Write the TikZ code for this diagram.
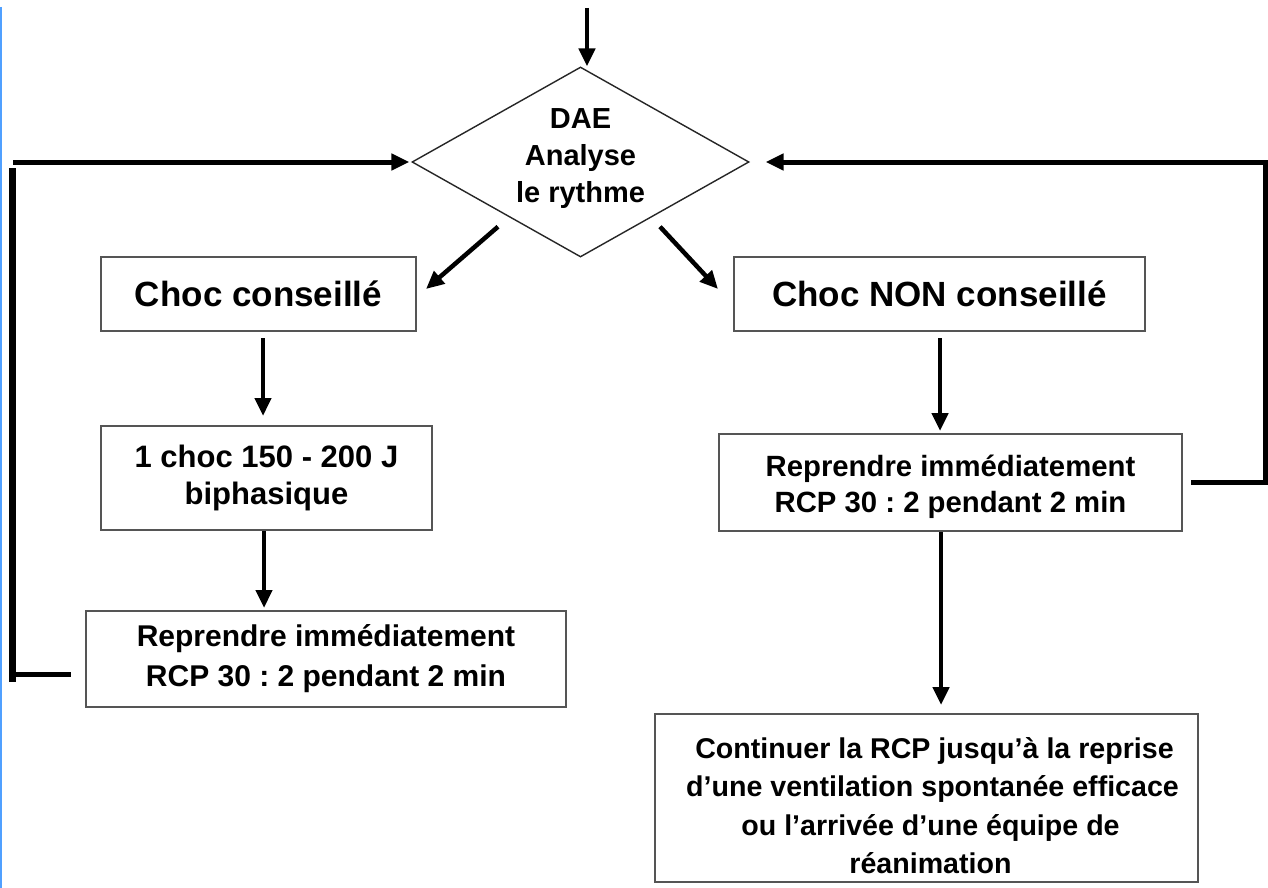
\documentclass[tikz,border=0pt]{standalone}
\usepackage{fontspec}
\setmainfont{Liberation Sans}
\frenchspacing
\usetikzlibrary{shapes.geometric,arrows.meta,calc}
\definecolor{edgeblue}{RGB}{80,160,255}
\definecolor{boxline}{RGB}{85,85,85}
\begin{document}
\begin{tikzpicture}[x=1pt,y=-1pt,
  box/.style={draw=boxline,line width=2pt,rectangle,inner sep=0pt,align=center,
    font=\fontsize{29}{38}\selectfont\bfseries},
  bigbox/.style={box,font=\fontsize{35}{40}\selectfont\bfseries},
  decision/.style={draw=black!85,line width=1.4pt,diamond,aspect=1.77,inner sep=0pt,align=center,
    font=\fontsize{29}{37}\selectfont\bfseries},
  conn/.style={line width=4.5pt,line join=miter,-{Triangle[length=18pt,width=16pt]}},
  loopline/.style={line width=5pt}
]
\fill[white] (0,0) rectangle (1268,888);
\useasboundingbox (0,0) rectangle (1268,888);
\draw[edgeblue,line width=2.5pt] (1.2,7) -- (1.2,888);

% nodes
\node[decision,minimum width=337pt,minimum height=190pt] (dae) at (580.5,162) {DAE\\Analyse\\le rythme\rule[-12pt]{0pt}{1pt}};
\node[bigbox,minimum width=315pt,minimum height=74pt] (choc) at (258.5,294) {Choc conseillé};
\node[bigbox,minimum width=411pt,minimum height=74pt] (non) at (939.5,294) {Choc NON conseillé};
\node[box,minimum width=331pt,minimum height=104pt,font=\fontsize{31}{37}\selectfont\bfseries] (onechoc) at (266.5,478) {1 choc 150 - 200 J\\biphasique};
\node[box,minimum width=480pt,minimum height=96pt,font=\fontsize{30}{40}\selectfont\bfseries] (lrep) at (326,659) {Reprendre immédiatement\\RCP 30 : 2 pendant 2 min};
\node[box,minimum width=463pt,minimum height=97pt,font=\fontsize{29.3}{36}\selectfont\bfseries] (rrep) at (950.5,482.5) {\rule{0pt}{30pt}Reprendre immédiatement\\RCP 30 : 2 pendant 2 min};
\node[box,minimum width=543pt,minimum height=168pt,font=\fontsize{28.6}{38.5}\selectfont\bfseries] (cont) at (926.5,798) {\rule{0pt}{36pt}\hspace{16pt}Continuer la RCP jusqu’à la reprise\\\hspace{12pt}d’une ventilation spontanée efficace\\\hspace{8pt}ou l’arrivée d’une équipe de\\\hspace{8pt}réanimation};

% entry arrow
\coordinate (tin) at (587,8);
\draw[conn] (tin) -- (tin |- dae.north);

% diagonal arrows
\draw[conn] ($(dae.south)+(-82.5,-31)$) -- ($(choc.east)+(9,-5)$);
\draw[conn] ($(dae.south)+(79.5,-31)$) -- ($(non.west)+(-15,-5)$);

% vertical arrows
\coordinate (a1) at ($(choc.south)+(4.5,6)$);
\draw[conn,shorten >=9pt] (a1) -- (a1 |- onechoc.north);
\coordinate (a2) at ($(onechoc.south)+(-2.5,0)$);
\draw[conn,shorten >=2pt] (a2) -- (a2 |- lrep.north);
\coordinate (a3) at ($(non.south)+(0.5,6)$);
\draw[conn,shorten >=2pt] (a3) -- (a3 |- rrep.north);
\coordinate (a4) at ($(rrep.south)+(-9.5,0)$);
\draw[conn,shorten >=8pt] (a4) -- (a4 |- cont.north);

% left loop
\coordinate (lt) at (13,162);
\draw[conn,line width=5pt,shorten >=2pt] (lt) -- (dae.west);
\coordinate (lv1) at (12,168);
\coordinate (lv2) at (12,682);
\draw[line width=7pt] (lv1) -- (lv2);
\coordinate (lb) at (9,674);
\draw[loopline] (lb) -- ($(lrep.west)+(-14,15)$);

% right loop
\coordinate (rc) at (1265,0);
\draw[conn,line width=5pt] ($(rrep.east)+(8,0)$) -- (rrep.east -| rc) -- (rc |- dae.east) -- ([xshift=16pt]dae.east);
\end{tikzpicture}
\end{document}
